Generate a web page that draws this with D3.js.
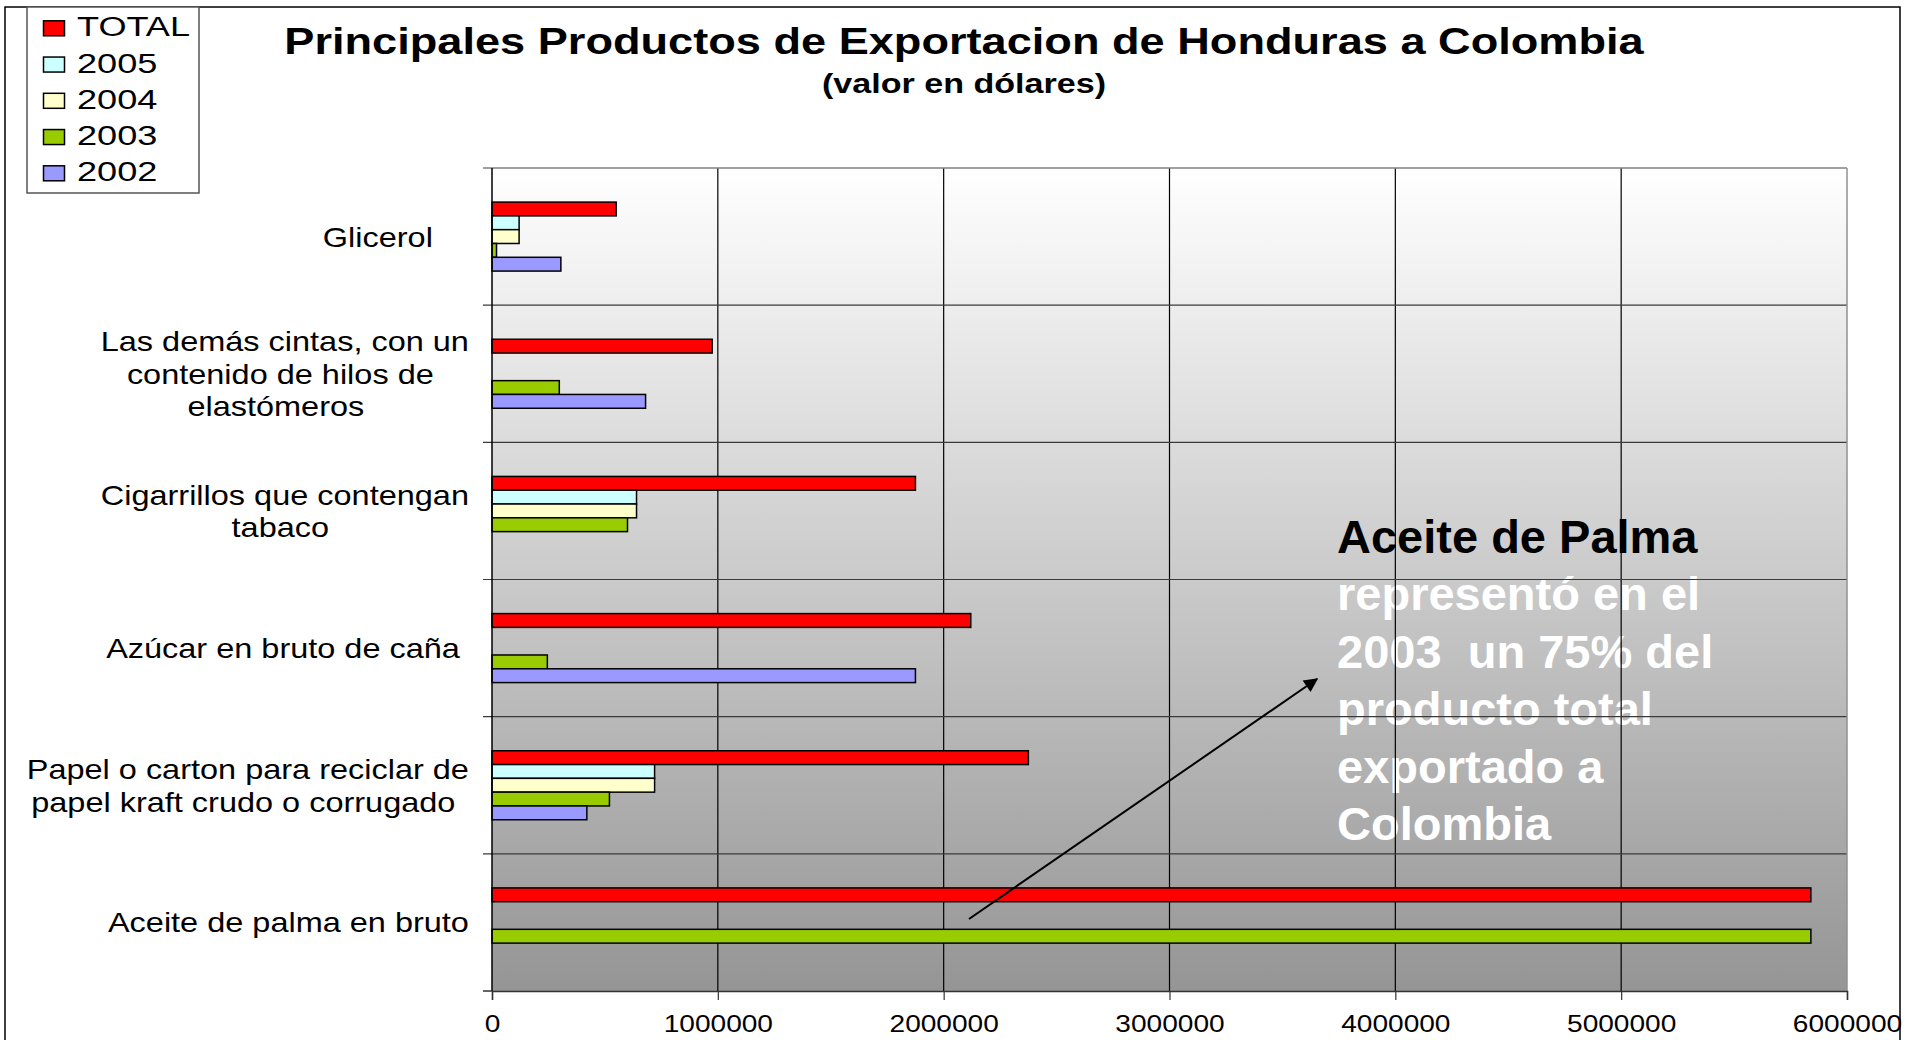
<!DOCTYPE html>
<html>
<head>
<meta charset="utf-8">
<script src="https://cdn.jsdelivr.net/npm/d3@7/dist/d3.min.js"></script>
<style>
  html, body { margin: 0; padding: 0; background: #ffffff; }
  svg { display: block; }
  text { font-family: "Liberation Sans", Arial, sans-serif; white-space: pre; }
</style>
</head>
<body>
<svg id="chart" width="1919" height="1040"></svg>
<script>
// ---------------- DATA ----------------
const categories = [
  "Glicerol",
  "Las demás cintas, con un contenido de hilos de elastómeros",
  "Cigarrillos que contengan tabaco",
  "Azúcar en bruto de caña",
  "Papel o carton para reciclar de papel kraft crudo o corrugado",
  "Aceite de palma en bruto"
];
const categoryLines = [
  ["Glicerol    "],
  ["Las demás cintas, con un", "contenido de hilos de ", "elastómeros  "],
  ["Cigarrillos que contengan", "tabaco "],
  ["Azúcar en bruto de caña "],
  ["Papel o carton para reciclar de", "papel kraft crudo o corrugado "],
  ["Aceite de palma en bruto"]
];
const seriesNames = ["TOTAL", "2005", "2004", "2003", "2002"];
const totalValues = [550000, 975000, 1875000, 2120000, 2375000, 5840000];
const values2005  = [120000, 0, 640000, 0, 720000, 0];
const values2004  = [120000, 0, 640000, 0, 720000, 0];
const values2003  = [20000, 298000, 600000, 245000, 520000, 5840000];
const values2002  = [305000, 680000, 0, 1875000, 420000, 0];
const seriesColors = ["#ff0000", "#ccffff", "#ffffcc", "#99cc00", "#9999ff"];
const xTickValues = [0, 1000000, 2000000, 3000000, 4000000, 5000000, 6000000];

const titleText = "Principales Productos de Exportacion de Honduras a Colombia";
const subtitleText = "(valor en dólares)";
const noteTitle = "Aceite de Palma";
const noteLines = ["representó en el", "2003  un 75% del", "producto total", "exportado a", "Colombia"];

const seriesValues = [totalValues, values2005, values2004, values2003, values2002];

// ---------------- LAYOUT ----------------
const svg = d3.select("#chart");
const P = { left: 492, right: 1847, top: 168, bottom: 991 };

const x = d3.scaleLinear().domain([0, 6000000]).range([P.left, P.right]);
const y = d3.scaleBand().domain(categories).range([P.top, P.bottom]);
const ySub = d3.scaleBand().domain(seriesNames).range([0, y.bandwidth()])
  .paddingInner(0).paddingOuter(2.47);
const color = d3.scaleOrdinal().domain(seriesNames).range(seriesColors);

// outer border
svg.append("rect").attr("x", 5).attr("y", 7).attr("width", 1895).attr("height", 1060)
  .attr("fill", "none").attr("stroke", "#000").attr("stroke-width", 1.5);

// gradient
const defs = svg.append("defs");
const grad = defs.append("linearGradient").attr("id", "bg").attr("x1", 0).attr("y1", 0).attr("x2", 0).attr("y2", 1);
grad.append("stop").attr("offset", "0%").attr("stop-color", "#ffffff");
grad.append("stop").attr("offset", "100%").attr("stop-color", "#959595");

defs.append("marker").attr("id", "arrow").attr("markerUnits", "userSpaceOnUse")
  .attr("viewBox", "0 0 10 10").attr("refX", 9).attr("refY", 5)
  .attr("markerWidth", 18).attr("markerHeight", 14).attr("orient", "auto")
  .append("path").attr("d", "M0,0 L10,5 L0,10 Z").attr("fill", "#000");

svg.append("rect").attr("x", P.left).attr("y", P.top)
  .attr("width", P.right - P.left).attr("height", P.bottom - P.top)
  .attr("fill", "url(#bg)");

// annotation text (behind the grid)
const note = svg.append("g");
note.append("text").attr("x", 1337).attr("y", 553)
  .attr("font-size", 47).attr("font-weight", "bold").attr("fill", "#000").text(noteTitle);
note.selectAll("text.nl").data(noteLines).join("text").attr("class", "nl")
  .attr("x", 1337).attr("y", (d, i) => 610 + i * 57.5)
  .attr("font-size", 47).attr("font-weight", "bold").attr("fill", "#fff").text(d => d);

// vertical gridlines
svg.append("g").selectAll("line").data(xTickValues.slice(1, -1)).join("line")
  .attr("x1", d => x(d)).attr("x2", d => x(d)).attr("y1", P.top).attr("y2", P.bottom)
  .attr("stroke", "#000").attr("stroke-width", 1.2);

// horizontal category boundaries (with outside ticks)
const bounds = categories.map(c => y(c)).concat([P.bottom]);
svg.append("g").selectAll("line").data(bounds.slice(1, -1)).join("line")
  .attr("x1", P.left - 9).attr("x2", P.right).attr("y1", d => d).attr("y2", d => d)
  .attr("stroke", "#3a3a3a").attr("stroke-width", 1.2);

// plot border top/right
svg.append("line").attr("x1", P.left - 9).attr("x2", P.right).attr("y1", P.top).attr("y2", P.top)
  .attr("stroke", "#808080").attr("stroke-width", 1.5);
svg.append("line").attr("x1", P.right).attr("x2", P.right).attr("y1", P.top).attr("y2", P.bottom)
  .attr("stroke", "#909090").attr("stroke-width", 1.5);

// bars
const barData = [];
categories.forEach((c, ci) => {
  seriesNames.forEach((s, si) => {
    const v = seriesValues[si][ci];
    if (v > 0) barData.push({ c, s, v });
  });
});
svg.append("g").selectAll("rect").data(barData).join("rect")
  .attr("x", x(0))
  .attr("y", d => y(d.c) + ySub(d.s))
  .attr("width", d => x(d.v) - x(0))
  .attr("height", ySub.bandwidth())
  .attr("fill", d => color(d.s))
  .attr("stroke", "#000").attr("stroke-width", 1.5);

// x axis
const xAxis = svg.append("g").attr("transform", `translate(0,${P.bottom})`)
  .call(d3.axisBottom(x).tickValues(xTickValues).tickSize(9).tickPadding(0).tickFormat(d3.format("d")));
xAxis.select(".domain").attr("stroke", "#333").attr("stroke-width", 1.5);
xAxis.selectAll(".tick line").attr("stroke", "#333").attr("stroke-width", 1.2);
xAxis.selectAll(".tick text").attr("y", 0).attr("dy", 0)
  .attr("font-size", 24).attr("fill", "#000")
  .attr("font-family", "'Liberation Sans', Arial, sans-serif")
  .attr("transform", "translate(0,41) scale(1.17,1)");

// y axis line with boundary ticks
svg.append("line").attr("x1", P.left).attr("x2", P.left).attr("y1", P.top).attr("y2", P.bottom)
  .attr("stroke", "#000").attr("stroke-width", 1.5);
svg.append("line").attr("x1", P.left - 9).attr("x2", P.left).attr("y1", P.bottom).attr("y2", P.bottom)
  .attr("stroke", "#333").attr("stroke-width", 1.5);

// category labels
const labelSX = 1.16, labelFS = 28, labelLH = 32.5, labelRight = 469;
categoryLines.forEach((lines, ci) => {
  const cy = y(categories[ci]) + y.bandwidth() / 2;
  const g = svg.append("g");
  const texts = g.selectAll("text").data(lines).join("text")
    .attr("font-size", labelFS).attr("fill", "#000").attr("text-anchor", "middle").text(d => d);
  let maxW = 0;
  texts.each(function () { maxW = Math.max(maxW, this.getComputedTextLength()); });
  const cx = labelRight - maxW * labelSX / 2;
  const first = cy - (lines.length - 1) / 2 * labelLH + labelFS * 0.716 / 2;
  texts.attr("transform", (d, i) => `translate(${cx},${first + i * labelLH}) scale(${labelSX},1)`);
});

// title
svg.append("text").attr("text-anchor", "middle").attr("font-weight", "bold").attr("font-size", 36.4)
  .attr("transform", "translate(964,54) scale(1.24,1)").text(titleText);
svg.append("text").attr("text-anchor", "middle").attr("font-weight", "bold").attr("font-size", 27.5)
  .attr("transform", "translate(964,93) scale(1.24,1)").text(subtitleText);

// legend
const lg = svg.append("g");
lg.append("rect").attr("x", 27).attr("y", 7).attr("width", 172).attr("height", 186)
  .attr("fill", "#fff").attr("stroke", "#555").attr("stroke-width", 1.5);
const items = lg.selectAll("g.item").data(seriesNames).join("g").attr("class", "item")
  .attr("transform", (d, i) => `translate(0,${28.3 + i * 36.25})`);
items.append("rect").attr("x", 43.5).attr("y", -7.5).attr("width", 21).attr("height", 15)
  .attr("fill", d => color(d)).attr("stroke", "#000").attr("stroke-width", 1.5);
items.append("text").attr("font-size", 28).attr("fill", "#000")
  .attr("transform", "translate(77,8) scale(1.29,1)").text(d => d);

// arrow
svg.append("line").attr("x1", 969).attr("y1", 919).attr("x2", 1317).attr("y2", 679)
  .attr("stroke", "#000").attr("stroke-width", 2).attr("marker-end", "url(#arrow)");
</script>
</body>
</html>
